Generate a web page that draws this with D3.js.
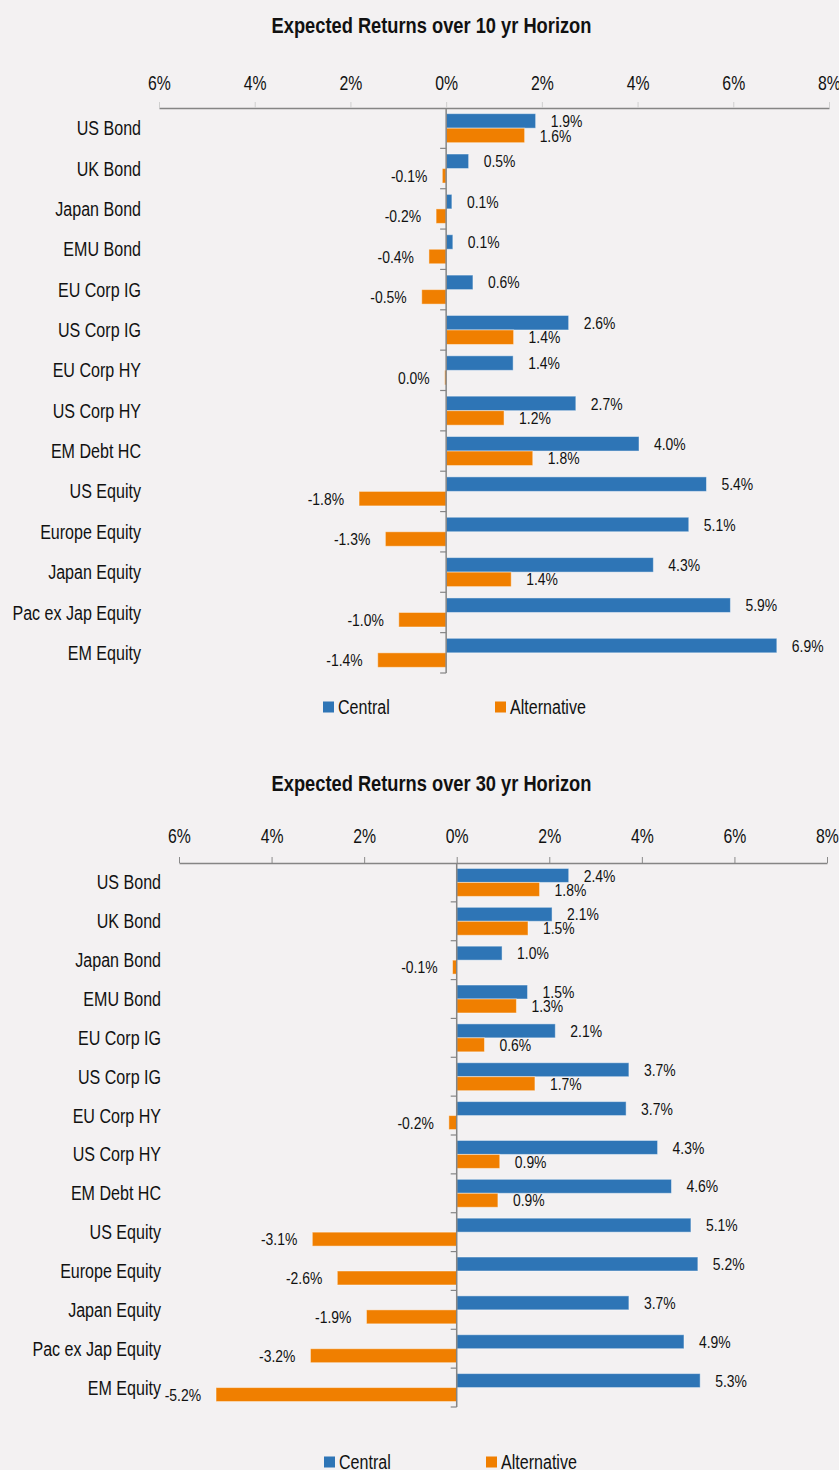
<!DOCTYPE html>
<html>
<head>
<meta charset="utf-8">
<script src="https://cdn.jsdelivr.net/npm/d3@7"></script>
<style>
  html, body { margin: 0; padding: 0; background: #f3f1f2; }
  svg { display: block; font-family: "Liberation Sans", Arial, sans-serif; }
</style>
</head>
<body>
<svg id="chart"></svg>
<script>
// categories (same for both horizons)
const categories = ["US Bond", "UK Bond", "Japan Bond", "EMU Bond", "EU Corp IG", "US Corp IG",
  "EU Corp HY", "US Corp HY", "EM Debt HC", "US Equity", "Europe Equity", "Japan Equity",
  "Pac ex Jap Equity", "EM Equity"];

const seriesNames = ["Central", "Alternative"];

// 10 year horizon, % returns
const central10 = [1.87, 0.47, 0.12, 0.14, 0.56, 2.56, 1.40, 2.71, 4.03, 5.44, 5.07, 4.33, 5.94, 6.91];
const alternative10 = [1.64, -0.08, -0.21, -0.36, -0.51, 1.41, -0.03, 1.21, 1.81, -1.82, -1.27, 1.36, -0.99, -1.43];

// 30 year horizon, % returns
const central30 = [2.42, 2.06, 0.98, 1.53, 2.13, 3.72, 3.66, 4.34, 4.64, 5.06, 5.21, 3.72, 4.91, 5.26];
const alternative30 = [1.79, 1.54, -0.09, 1.29, 0.60, 1.69, -0.17, 0.93, 0.89, -3.12, -2.58, -1.95, -3.16, -5.20];

const xDomain = [-6, 8];
const tickValues = [-6, -4, -2, 0, 2, 4, 6, 8];

const colors = {Central: "#2e75b6", Alternative: "#f07f00"};

const width = 839, height = 1470;
// no condensed font installed, so squeeze text horizontally
const squeeze = 0.82;

const svg = d3.select("#chart")
  .attr("width", width)
  .attr("height", height);

svg.append("rect")
  .attr("width", width)
  .attr("height", height)
  .attr("fill", "#f3f1f2");

// layout of each panel
const panels = [
  {title: "Expected Returns over 10 yr Horizon", central: central10, alternative: alternative10,
   titleY: 25, top: 108, bottom: 673, left: 159, right: 829, labelX: 141,
   legendY: 707, legendX: [323, 495], tickColor: "#cfcfcf", tickPad: 12},
  {title: "Expected Returns over 30 yr Horizon", central: central30, alternative: alternative30,
   titleY: 783, top: 863, bottom: 1407, left: 179, right: 827, labelX: 161,
   legendY: 1462, legendX: [324, 486], tickColor: "#8a8a8a", tickPad: 14}
];

const fmt = (v) => (Math.round(v * 10) / 10).toFixed(1) + "%";
const at = (x, y) => `translate(${x}, ${y}) scale(${squeeze}, 1)`;

panels.forEach((p) => {
  const g = svg.append("g");

  const x = d3.scaleLinear().domain(xDomain).range([p.left, p.right]);
  const y = d3.scaleBand().domain(categories).range([p.top, p.bottom]).padding(0);
  const sub = d3.scaleBand().domain(seriesNames).range([0, y.bandwidth()])
    .paddingInner(0).paddingOuter(0.39);

  // title
  g.append("text")
    .attr("transform", at(431.5, p.titleY))
    .attr("text-anchor", "middle")
    .attr("dy", "0.36em")
    .attr("font-size", 22.3)
    .attr("font-weight", "bold")
    .attr("fill", "#111")
    .text(p.title);

  // value axis on top
  const xAxis = g.append("g")
    .attr("transform", `translate(0, ${p.top})`)
    .call(d3.axisTop(x)
      .tickValues(tickValues)
      .tickSize(6)
      .tickSizeOuter(0)
      .tickPadding(p.tickPad)
      .tickFormat((d) => Math.abs(d) + "%"));
  xAxis.select(".domain").attr("stroke", "#858585").attr("stroke-width", 1.5);
  xAxis.selectAll(".tick line").attr("stroke", p.tickColor);
  xAxis.selectAll(".tick text")
    .attr("transform", `scale(${squeeze}, 1)`)
    .attr("font-size", 19.3)
    .attr("fill", "#111")
    .attr("font-family", null);

  // bars
  const rows = categories.map((c, i) => ({
    cat: c,
    vals: [{s: "Central", v: p.central[i]}, {s: "Alternative", v: p.alternative[i]}]
  }));

  const row = g.selectAll(".row")
    .data(rows)
    .enter()
    .append("g")
    .attr("transform", (d) => `translate(0, ${y(d.cat)})`);

  row.selectAll("rect")
    .data((d) => d.vals)
    .enter()
    .append("rect")
    .attr("x", (d) => x(Math.min(0, d.v)))
    .attr("y", (d) => sub(d.s))
    .attr("width", (d) => Math.abs(x(d.v) - x(0)))
    .attr("height", sub.bandwidth())
    .attr("fill", (d) => colors[d.s])
    .attr("stroke", "rgba(255,255,255,0.45)")
    .attr("stroke-width", 1);

  // data labels
  row.selectAll("text.val")
    .data((d) => d.vals)
    .enter()
    .append("text")
    .attr("class", "val")
    .attr("transform", (d) => at(d.v > 0 ? x(d.v) + 15 : x(d.v) - 15, sub(d.s) + sub.bandwidth() / 2))
    .attr("dy", "0.36em")
    .attr("text-anchor", (d) => d.v > 0 ? "start" : "end")
    .attr("font-size", 17)
    .attr("fill", "#111")
    .text((d) => fmt(d.v));

  // category axis at zero
  g.append("line")
    .attr("x1", x(0)).attr("x2", x(0))
    .attr("y1", p.top).attr("y2", p.bottom)
    .attr("stroke", "#858585")
    .attr("stroke-width", 1.5);

  g.selectAll(".cattick")
    .data(categories)
    .enter()
    .append("line")
    .attr("x1", x(0) - 6).attr("x2", x(0))
    .attr("y1", (d) => y(d) + y.step())
    .attr("y2", (d) => y(d) + y.step())
    .attr("stroke", "#858585")
    .attr("stroke-width", 1.2);

  g.selectAll(".catlabel")
    .data(categories)
    .enter()
    .append("text")
    .attr("transform", (d) => at(p.labelX, y(d) + y.bandwidth() / 2))
    .attr("dy", "0.36em")
    .attr("text-anchor", "end")
    .attr("font-size", 19.6)
    .attr("fill", "#111")
    .text((d) => d);

  // legend
  const leg = g.selectAll(".leg")
    .data(seriesNames)
    .enter()
    .append("g")
    .attr("transform", (d, i) => `translate(${p.legendX[i]}, ${p.legendY})`);
  leg.append("rect")
    .attr("x", 0).attr("y", -5.5)
    .attr("width", 11).attr("height", 11)
    .attr("fill", (d) => colors[d]);
  leg.append("text")
    .attr("transform", at(15, 0))
    .attr("dy", "0.36em")
    .attr("font-size", 19.6)
    .attr("fill", "#111")
    .text((d) => d);
});
</script>
</body>
</html>
